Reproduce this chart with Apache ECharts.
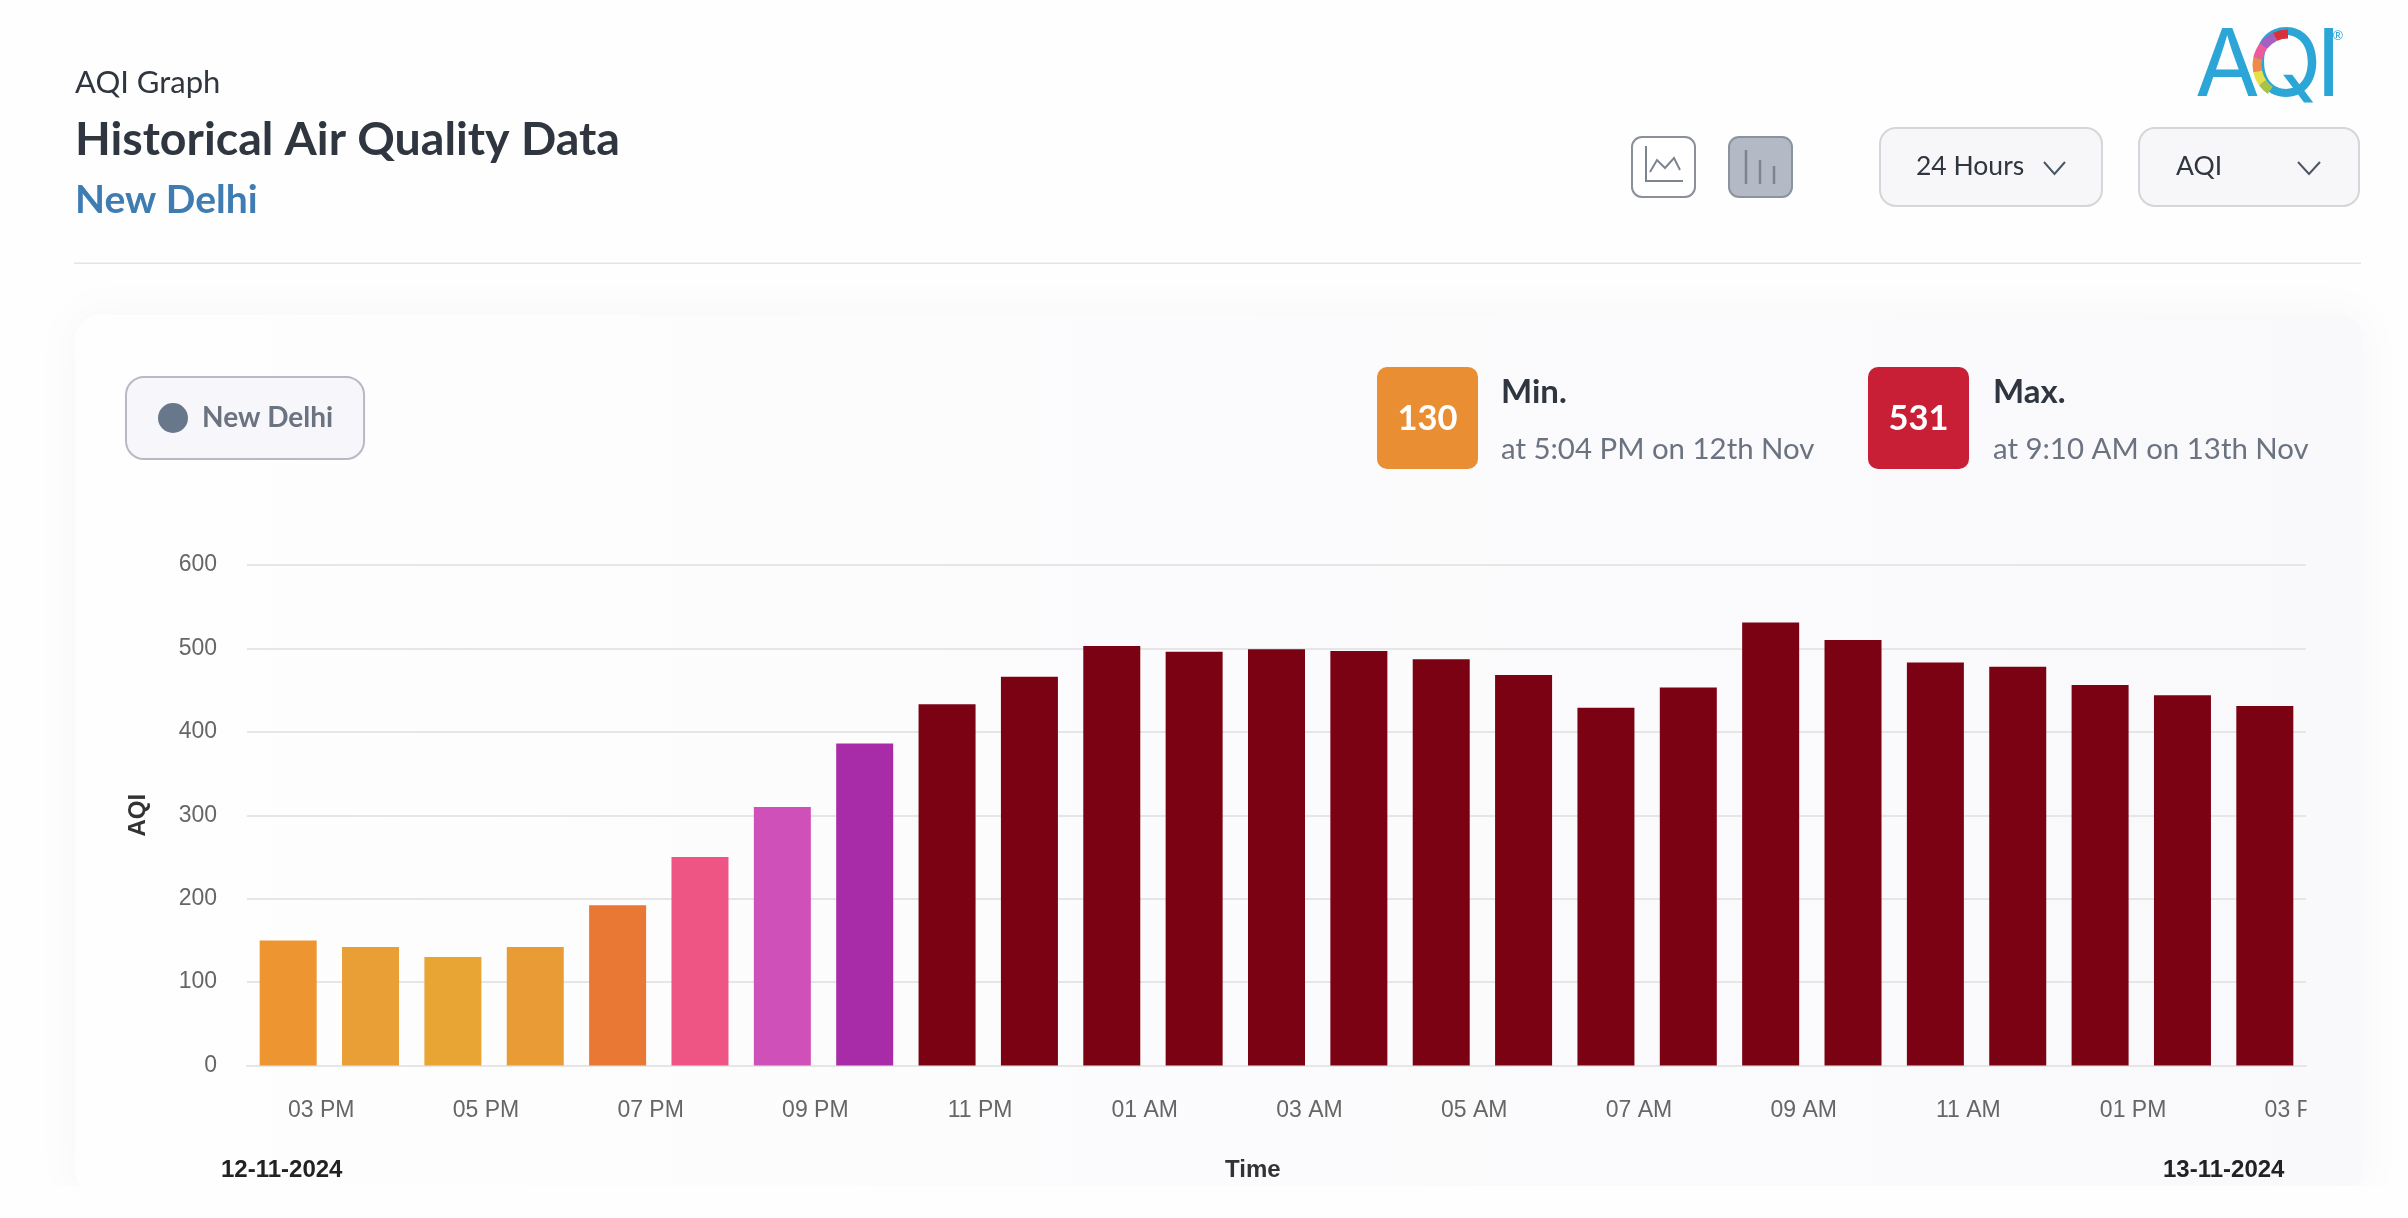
<!DOCTYPE html>
<html>
<head>
<meta charset="utf-8">
<title>AQI Graph</title>
<script src="https://cdn.jsdelivr.net/npm/echarts@6/dist/echarts.min.js"></script>
<style>
    html, body { margin: 0; padding: 0; background: #fefefe; }
    #chart { width: 2408px; height: 1218px; }
</style>
</head>
<body>
<div id="chart"></div>
<script>
const hours = ['03 PM', '04 PM', '05 PM', '06 PM', '07 PM', '08 PM', '09 PM', '10 PM', '11 PM', '12 AM', '01 AM', '02 AM', '03 AM',
    '04 AM', '05 AM', '06 AM', '07 AM', '08 AM', '09 AM', '10 AM', '11 AM', '12 PM', '01 PM', '02 PM', '03 PM'];
const aqiValues = [150, 142, 130, 142, 192, 250, 310, 386, 433, 466, 503, 496, 499, 497, 487, 468, 429, 453, 531, 510, 483, 478, 456, 444, 431];
const barColors = ['#ec9531', '#e99f36', '#e8a533', '#e99c36', '#e87833', '#ee5585', '#ce50b8', '#a82ba8', '#7b0213', '#7b0213', '#7b0213',
    '#7b0213', '#7b0213', '#7b0213', '#7b0213', '#7b0213', '#7b0213', '#7b0213', '#7b0213', '#7b0213', '#7b0213', '#7b0213', '#7b0213', '#7b0213', '#7b0213'];
const yTicks = { min: 0, max: 600, step: 100 };

const UI_FONT = 'Lato';
const AXIS_FONT = '"Liberation Sans"';

function label(text, x, y, size, weight, color, family, align) {
    return {
        type: 'text', z: 5,
        style: { text: text, x: x, y: y, fontSize: size, fontWeight: weight, fill: color,
            fontFamily: family || UI_FONT, align: align || 'left', verticalAlign: 'middle' }
    };
}

function box(x, y, w, h, r, fill, stroke, lineWidth) {
    return {
        type: 'rect', z: 4,
        shape: { x: x, y: y, width: w, height: h, r: r },
        style: { fill: fill, stroke: stroke || null, lineWidth: lineWidth || 0 }
    };
}

function stroke(points, color, width) {
    return {
        type: 'polyline', z: 5,
        shape: { points: points },
        style: { stroke: color, lineWidth: width, fill: null }
    };
}

function ringPart(from, to, color) {
    return {
        type: 'arc', z: 6,
        shape: { cx: 2288, cy: 65, r: 31, startAngle: from * Math.PI / 180, endAngle: to * Math.PI / 180, clockwise: true },
        style: { stroke: color, lineWidth: 9, fill: null }
    };
}

const furniture = [
    // card behind the plot
    {
        type: 'rect', z: -1,
        shape: { x: 75, y: 315, width: 2288, height: 880, r: 24 },
        style: {
            fill: new echarts.graphic.LinearGradient(0, 0, 1, 0, [{ offset: 0, color: '#fefefe' }, { offset: 1, color: '#f9f9fc' }]),
            shadowBlur: 40, shadowColor: 'rgba(0,0,0,0.03)'
        }
    },
    { type: 'rect', z: 3, shape: { x: 0, y: 1186, width: 2408, height: 32 }, style: { fill: '#fefefe' } },
    { type: 'rect', z: 3, shape: { x: 2306.5, y: 1085, width: 50, height: 50 }, style: { fill: '#f9f9fc' } },

    // header
    label('AQI Graph', 75, 83, 31, 400, '#2f3640'),
    label('Historical Air Quality Data', 75, 139.5, 46.5, 700, '#2f3640'),
    label('New Delhi', 75, 200.5, 39, 700, '#3e7cb1'),
    { type: 'rect', z: 4, shape: { x: 74, y: 262.5, width: 2287, height: 1.5 }, style: { fill: '#e4e4e6' } },

    // logo
    label('A', 2195, 68, 94, 400, '#2ba6d6', 'Inter'),
    label('Q', 2250, 68, 94, 400, '#2ba6d6', 'Inter'),
    label('I', 2316, 68, 94, 400, '#2ba6d6', 'Inter'),
    label('®', 2338, 36, 13, 400, '#2ba6d6', UI_FONT, 'center'),
    ringPart(245, 270, '#d9303c'),
    ringPart(218, 245, '#a55fc0'),
    ringPart(192, 218, '#ee5a9a'),
    ringPart(168, 192, '#ee8a4a'),
    ringPart(145, 168, '#e8e04a'),
    ringPart(125, 145, '#a9c24a'),

    // chart type buttons
    box(1632, 137, 63, 60, 10, '#ffffff', '#8a8f98', 2),
    stroke([[1646, 146], [1646, 181], [1683, 181]], '#7d8490', 2),
    stroke([[1650, 172], [1657, 160], [1665, 168], [1674, 158], [1680, 170]], '#7d8490', 2),
    box(1729, 137, 63, 60, 10, '#b4bac5', '#8c93a0', 2),
    stroke([[1746, 150], [1746, 184]], '#7d8490', 2.5),
    stroke([[1760, 160], [1760, 184]], '#7d8490', 2.5),
    stroke([[1774, 166], [1774, 184]], '#7d8490', 2.5),

    // dropdowns
    box(1880, 128, 222, 78, 16, '#f7f7fa', '#d5d5da', 2),
    label('24 Hours', 1916, 166.5, 26.5, 400, '#2f3640'),
    stroke([[2044, 162], [2054.5, 174], [2065, 162]], '#4b5563', 2),
    box(2139, 128, 220, 78, 16, '#f7f7fa', '#d5d5da', 2),
    label('AQI', 2176, 166.5, 26.5, 400, '#2f3640'),
    stroke([[2298, 162], [2309, 174], [2320, 162]], '#4b5563', 2),

    // min and max
    box(1377, 367, 101, 102, 10, '#e98e33'),
    label('130', 1427.5, 418.5, 34.5, 700, '#ffffff', UI_FONT, 'center'),
    label('Min.', 1501, 392.5, 33, 700, '#2f3640'),
    label('at 5:04 PM on 12th Nov', 1501, 449.5, 29.4, 400, '#6b7280'),
    box(1868, 367, 101, 102, 10, '#c81e36'),
    label('531', 1918.5, 418.5, 34.5, 700, '#ffffff', UI_FONT, 'center'),
    label('Max.', 1993, 392.5, 33, 700, '#2f3640'),
    label('at 9:10 AM on 13th Nov', 1993, 449.5, 29.4, 400, '#6b7280'),

    // labels under the axis
    label('12-11-2024', 221, 1170, 24, 700, '#222222', AXIS_FONT),
    label('Time', 1225, 1170, 24, 700, '#333333', AXIS_FONT),
    label('13-11-2024', 2163, 1170, 24, 700, '#222222', AXIS_FONT)
];

const myChart = echarts.init(document.getElementById('chart'));
myChart.setOption({
    animation: false,
    backgroundColor: '#fefefe',
    grid: { left: 247, right: 102, top: 565, bottom: 152.5 },
    legend: {
        left: 126, top: 377,
        data: ['New Delhi'],
        icon: 'circle',
        itemWidth: 48, itemHeight: 30,
        padding: [26, 31, 26, 32],
        backgroundColor: '#f6f6fb',
        borderColor: '#b9b9c6', borderWidth: 2, borderRadius: 18,
        itemStyle: { color: '#68788a' },
        textStyle: { fontFamily: UI_FONT, fontSize: 28, fontWeight: 700, color: '#6b7280' }
    },
    xAxis: {
        type: 'category',
        data: hours,
        axisTick: { show: false },
        axisLine: { lineStyle: { color: '#e6e6e6', width: 2 } },
        axisLabel: {
            interval: 1,
            margin: 34,
            padding: [0, 0, 0, 66],
            fontFamily: AXIS_FONT, fontSize: 23, color: '#666666'
        }
    },
    yAxis: {
        type: 'value',
        min: yTicks.min, max: yTicks.max, interval: yTicks.step,
        name: 'AQI',
        nameLocation: 'middle',
        nameGap: 97,
        nameTextStyle: { fontFamily: AXIS_FONT, fontSize: 24, fontWeight: 700, color: '#333333' },
        axisLabel: { margin: 30, fontFamily: AXIS_FONT, fontSize: 23, color: '#666666' },
        splitLine: { lineStyle: { color: '#e6e6e6', width: 2 } }
    },
    series: [{
        name: 'New Delhi',
        type: 'bar',
        barWidth: 57,
        data: aqiValues.map(function (v, i) {
            return { value: v, itemStyle: { color: barColors[i] } };
        })
    }],
    graphic: furniture
});
</script>
</body>
</html>
